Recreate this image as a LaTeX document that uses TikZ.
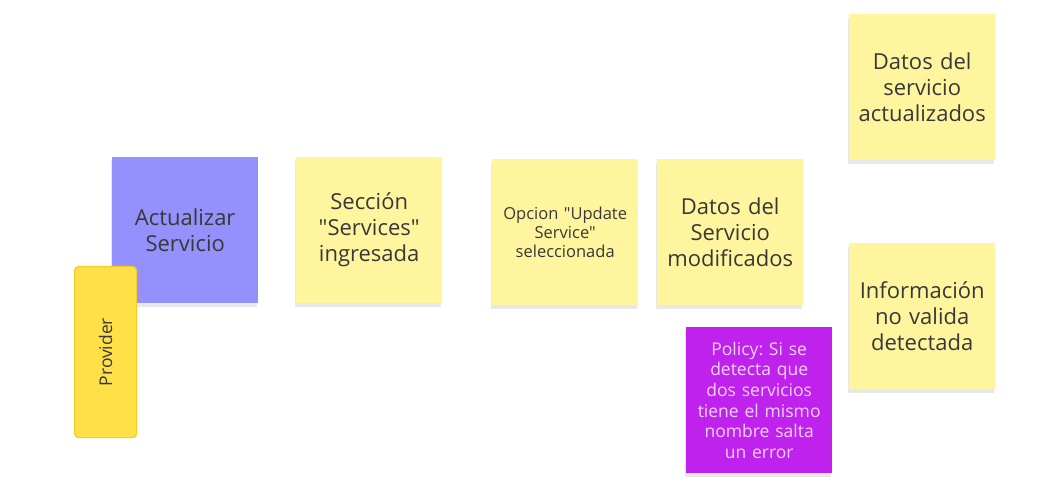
\documentclass[tikz,border=0pt]{standalone}
\usepackage{fontspec}
\setmainfont{Open Sans}[Ligatures=TeXOff]
\usetikzlibrary{shadows}
\frenchspacing
\definecolor{stickyyellow}{HTML}{FFF59E}
\definecolor{stickypurple}{HTML}{9490FC}
\definecolor{stickyviolet}{HTML}{BE22EC}
\definecolor{provfill}{HTML}{FFE048}
\definecolor{provdraw}{HTML}{F8CC20}
\definecolor{txt}{HTML}{383838}
\definecolor{ptxt}{HTML}{F4D2FC}
\tikzset{
  sticky/.style={minimum width=146pt, minimum height=146pt, text width=140pt, align=center,
    inner sep=0pt, anchor=north west, font=\fontsize{22}{26}\selectfont, text=txt,
    drop shadow={opacity=0.18, shadow xshift=-1pt, shadow yshift=-4pt}},
  ysticky/.style={sticky, fill=stickyyellow},
}
\begin{document}
\begin{tikzpicture}[x=1pt,y=-1pt]
\useasboundingbox[fill=white] (0,0) rectangle (1053,489);
\node[sticky, fill=stickypurple, text=txt] (act) at (112,157) {Actualizar\\Servicio};
\node[rounded corners=4pt, fill=provfill, draw=provdraw, line width=1.2pt, minimum width=62pt,
  minimum height=171pt, anchor=north west, inner sep=0pt] (prov) at (74,266) {};
\node[rotate=90, text=txt, font=\fontsize{17.5}{20}\selectfont] (provt) at (prov.center) {Provider};
\node[ysticky] (sec) at (296,157) {Sección\\"Services"\\ingresada};
\node[ysticky, font=\fontsize{16.5}{19}\selectfont] (opc) at (492,159) {Opcion "Update\\Service"\\seleccionada};
\node[ysticky] (mod) at (657,159) {Datos del\\Servicio\\modificados};
\node[sticky, fill=stickyviolet, text=ptxt, font=\fontsize{17.5}{20.7}\selectfont] (pol) at (686,327)
  {Policy: Si se\\detecta que\\dos servicios\\tiene el mismo\\nombre salta\\un error};
\node[ysticky] (upd) at (849,14) {Datos del\\servicio\\actualizados};
\node[ysticky] (inv) at (849,243) {Información\\no valida\\detectada};
\end{tikzpicture}
\end{document}
